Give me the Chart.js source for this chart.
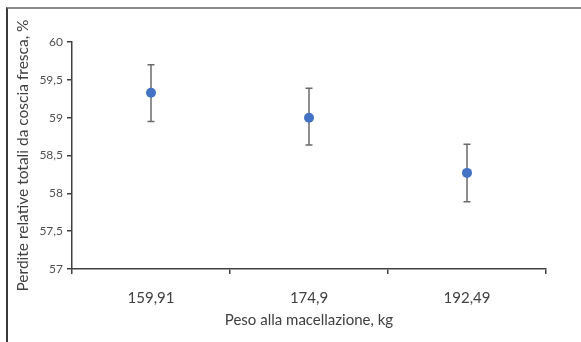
<!DOCTYPE html>
<html>
<head>
<meta charset="utf-8">
<script src="https://cdn.jsdelivr.net/npm/chart.js@4/dist/chart.umd.min.js"></script>
<style>
  body { margin: 0; background: #fff; overflow: hidden; }
  #wrap { position: relative; width: 581px; height: 342px; }
  #frame { position: absolute; left: 6px; top: 7px; width: 700px; height: 500px;
           border-top: 2px solid #8a8a8a; border-left: 2px solid #3a3a3a; }
  canvas { position: absolute; left: 0; top: 0; }
</style>
</head>
<body>
<div id="wrap">
  <div id="frame"></div>
  <canvas id="chart" width="581" height="342"></canvas>
</div>
<script>
// weights at slaughter (kg) and mean total losses (%) with error bar limits
const categories = ["159,91", "174,9", "192,49"]
const means = [59.33, 59.0, 58.27]
const errLow = [58.95, 58.64, 57.89]
const errHigh = [59.70, 59.39, 58.65]

const FONT = "Lato, 'Open Sans', sans-serif"
const comma = v => String(v).replace(".", ",")

/**
 * Draws vertical error bars with caps under the points
 */
const errorBars = {
    id: "errorBars",
    beforeDatasetsDraw(chart) {
        const {ctx, scales: {x, y}} = chart
        ctx.save()
        ctx.strokeStyle = "#6b6b6b"
        ctx.lineWidth = 1.5
        means.forEach((m, i) => {
            const px = x.getPixelForValue(i)
            const top = y.getPixelForValue(errHigh[i])
            const bot = y.getPixelForValue(errLow[i])
            ctx.beginPath()
            ctx.moveTo(px, top); ctx.lineTo(px, bot)
            ctx.moveTo(px - 3.5, top); ctx.lineTo(px + 3.5, top)
            ctx.moveTo(px - 3.5, bot); ctx.lineTo(px + 3.5, bot)
            ctx.stroke()
        })
        ctx.restore()
    }
}

new Chart(document.getElementById("chart"), {
    type: "line",
    data: {
        labels: categories,
        datasets: [{
            data: means,
            showLine: false,
            pointRadius: 5,
            pointHoverRadius: 5,
            pointBackgroundColor: "#4472C4",
            pointBorderColor: "#4472C4",
            pointBorderWidth: 0
        }]
    },
    options: {
        responsive: false,
        animation: false,
        layout: { padding: { top: 42, right: 35, left: 14, bottom: 13 } },
        plugins: {
            legend: { display: false },
            tooltip: { enabled: false }
        },
        scales: {
            x: {
                offset: true,
                afterFit: s => { s.height = 60 },
                grid: { offset: true, drawOnChartArea: false, drawTicks: true, tickLength: 5, color: "#404040", lineWidth: 1.5 },
                border: { color: "#404040", width: 1.5 },
                ticks: { color: "#404040", font: { family: FONT, size: 15 }, padding: 15 },
                title: { display: true, text: "Peso alla macellazione, kg", color: "#404040",
                         font: { family: FONT, size: 15 }, padding: { top: 1, bottom: 0 } }
            },
            y: {
                min: 57,
                max: 60,
                afterFit: s => { s.width = 58 },
                grid: { drawOnChartArea: false, drawTicks: true, tickLength: 5, color: "#404040", lineWidth: 1.5 },
                border: { color: "#404040", width: 1.5 },
                ticks: { stepSize: 0.5, color: "#505050", font: { family: FONT, size: 12 }, padding: 4,
                         callback: v => comma(v) },
                title: { display: true, text: "Perdite relative totali da coscia fresca, %", color: "#404040",
                         font: { family: FONT, size: 15.5 }, padding: { top: 0, bottom: 4 } }
            }
        }
    },
    plugins: [errorBars]
})
</script>
</body>
</html>
